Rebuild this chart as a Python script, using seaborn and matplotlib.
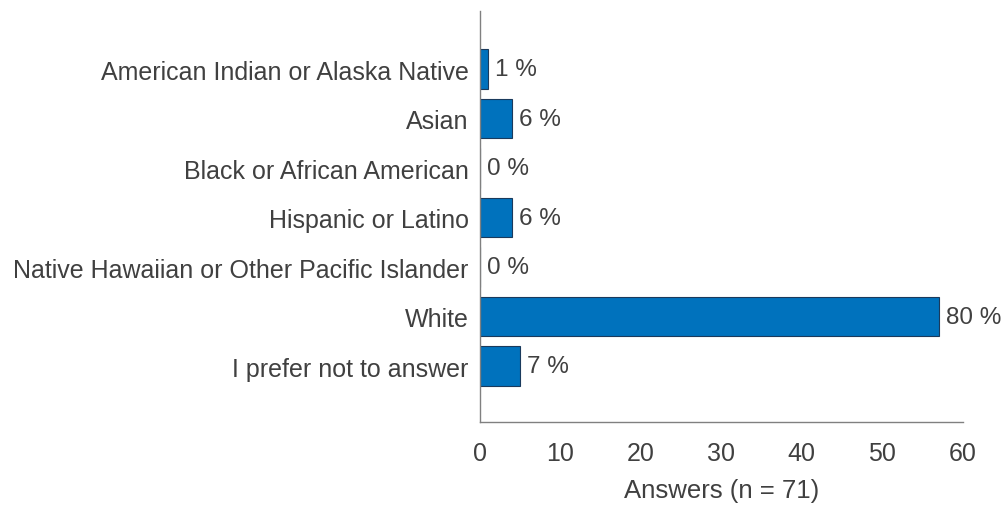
import numpy as np
import pandas as pd
import seaborn as sns
import matplotlib.pyplot as plt

# Survey answers (n = 71)
categories = ['American Indian or Alaska Native', 'Asian', 'Black or African American',
              'Hispanic or Latino', 'Native Hawaiian or Other Pacific Islander',
              'White', 'I prefer not to answer']
counts = [1, 4, 0, 4, 0, 57, 5]
percent_labels = ['1 %', '6 %', '0 %', '6 %', '0 %', '80 %', '7 %']
x_ticks = [0, 10, 20, 30, 40, 50, 60]

df = pd.DataFrame({'category': categories, 'count': counts})

sns.set_style('white')
plt.rcParams['font.family'] = ['Liberation Sans', 'DejaVu Sans']
text_color = '#404040'

fig = plt.figure(figsize=(10.06, 5.06), dpi=100)
ax = fig.add_axes([0.477, 0.164, 0.48, 0.812])

sns.barplot(data=df, x='count', y='category', orient='h', color='#0072BD',
            saturation=1, width=0.8, edgecolor='#1a3a5c', linewidth=0.8, ax=ax)

for i, (c, lab) in enumerate(zip(counts, percent_labels)):
    ax.text(c + 0.9, i, lab, va='center', ha='left', fontsize=17.5, color=text_color)

ax.set_xlim(0, 60)
ax.set_ylim(6 + 1.13, -1.17)
ax.set_xticks(x_ticks)
ax.set_xlabel('Answers (n = 71)', fontsize=18.5, color=text_color, labelpad=9)
ax.set_ylabel('')
ax.tick_params(axis='both', direction='in', length=4, color='#808080',
               labelsize=18, labelcolor=text_color)
ax.tick_params(axis='x', pad=14)
ax.tick_params(axis='y', pad=8)
sns.despine(ax=ax)
for s in ['left', 'bottom']:
    ax.spines[s].set_color('#808080')
    ax.spines[s].set_linewidth(1.0)

fig.savefig('out.png', dpi=100)
